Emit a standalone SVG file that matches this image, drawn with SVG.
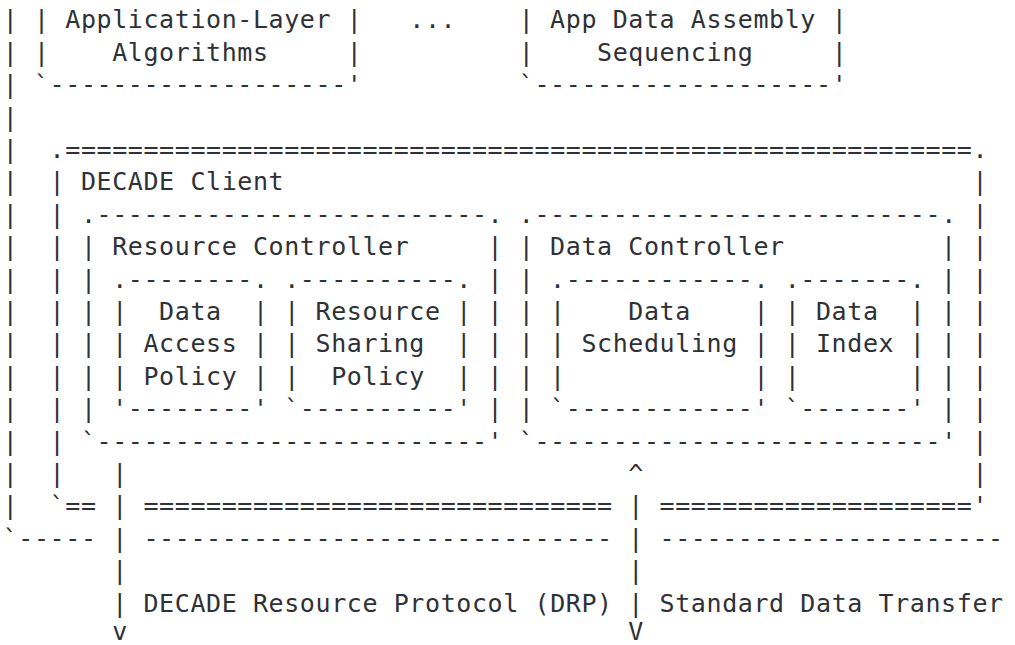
<svg xmlns="http://www.w3.org/2000/svg" width="1015" height="645" viewBox="0 0 1015 645" xml:space="preserve">
  <style>
    text { font-family: "DejaVu Sans Mono", "Liberation Mono", monospace; font-size: 25px; letter-spacing: 0.59px; fill: #2e3135; white-space: pre; }
  </style>
  <rect width="1015" height="645" fill="#ffffff"/>

  <!-- Grid: column c at x = 2.7 + 15.64*c, row r baseline at y = 28.3 + 32.4*(r-1) -->

  <!-- Outer application frame (left edge and bottom rule) -->
  <g id="application">
    <text><tspan x="2.7" y="28.3">|</tspan><tspan x="2.7" y="60.7">|</tspan><tspan x="2.7" y="93.1">|</tspan><tspan x="2.7" y="125.5">|</tspan><tspan x="2.7" y="157.9">|</tspan><tspan x="2.7" y="190.3">|</tspan><tspan x="2.7" y="222.7">|</tspan><tspan x="2.7" y="255.1">|</tspan><tspan x="2.7" y="287.5">|</tspan><tspan x="2.7" y="319.9">|</tspan><tspan x="2.7" y="352.3">|</tspan><tspan x="2.7" y="384.7">|</tspan><tspan x="2.7" y="417.1">|</tspan><tspan x="2.7" y="449.5">|</tspan><tspan x="2.7" y="481.9">|</tspan><tspan x="2.7" y="514.3">|</tspan></text>
    <text x="2.7" y="546.7">`-----</text>
    <text x="143.46" y="546.7">------------------------------</text>
    <text x="659.58" y="546.7">----------------------</text>
  </g>

  <g id="app-layer-algorithms">
    <text x="33.98" y="28.3">| Application-Layer |</text>
    <text x="33.98" y="60.7">|    Algorithms     |</text>
    <text x="33.98" y="93.1">`-------------------'</text>
  </g>

  <g id="ellipsis">
    <text x="409.34" y="28.3">...</text>
  </g>

  <g id="app-data-assembly">
    <text x="518.82" y="28.3">| App Data Assembly |</text>
    <text x="518.82" y="60.7">|    Sequencing     |</text>
    <text x="518.82" y="93.1">`-------------------'</text>
  </g>

  <g id="decade-client">
    <text x="49.62" y="157.9">.==========================================================.</text>
    <text x="49.62" y="190.3">| DECADE Client</text>
    <text><tspan x="49.62" y="222.7">|</tspan><tspan x="49.62" y="255.1">|</tspan><tspan x="49.62" y="287.5">|</tspan><tspan x="49.62" y="319.9">|</tspan><tspan x="49.62" y="352.3">|</tspan><tspan x="49.62" y="384.7">|</tspan><tspan x="49.62" y="417.1">|</tspan><tspan x="49.62" y="449.5">|</tspan><tspan x="49.62" y="481.9">|</tspan></text>
    <text><tspan x="972.38" y="190.3">|</tspan><tspan x="972.38" y="222.7">|</tspan><tspan x="972.38" y="255.1">|</tspan><tspan x="972.38" y="287.5">|</tspan><tspan x="972.38" y="319.9">|</tspan><tspan x="972.38" y="352.3">|</tspan><tspan x="972.38" y="384.7">|</tspan><tspan x="972.38" y="417.1">|</tspan><tspan x="972.38" y="449.5">|</tspan><tspan x="972.38" y="481.9">|</tspan></text>
    <text x="49.62" y="514.3">`==</text>
    <text x="143.46" y="514.3">==============================</text>
    <text x="659.58" y="514.3">===================='</text>
  </g>

  <g id="resource-controller">
    <text x="80.9" y="222.7">.-------------------------.</text>
    <text x="80.9" y="255.1">| Resource Controller</text>
    <text><tspan x="80.9" y="287.5">|</tspan><tspan x="80.9" y="319.9">|</tspan><tspan x="80.9" y="352.3">|</tspan><tspan x="80.9" y="384.7">|</tspan><tspan x="80.9" y="417.1">|</tspan></text>
    <text><tspan x="487.54" y="255.1">|</tspan><tspan x="487.54" y="287.5">|</tspan><tspan x="487.54" y="319.9">|</tspan><tspan x="487.54" y="352.3">|</tspan><tspan x="487.54" y="384.7">|</tspan><tspan x="487.54" y="417.1">|</tspan></text>
    <text x="80.9" y="449.5">`-------------------------'</text>
  </g>

  <g id="data-access-policy">
    <text x="112.18" y="287.5">.--------.</text>
    <text x="112.18" y="319.9">|  Data  |</text>
    <text x="112.18" y="352.3">| Access |</text>
    <text x="112.18" y="384.7">| Policy |</text>
    <text x="112.18" y="417.1">'--------'</text>
  </g>

  <g id="resource-sharing-policy">
    <text x="284.22" y="287.5">.----------.</text>
    <text x="284.22" y="319.9">| Resource |</text>
    <text x="284.22" y="352.3">| Sharing  |</text>
    <text x="284.22" y="384.7">|  Policy  |</text>
    <text x="284.22" y="417.1">`----------'</text>
  </g>

  <g id="data-controller">
    <text x="518.82" y="222.7">.--------------------------.</text>
    <text x="518.82" y="255.1">| Data Controller</text>
    <text><tspan x="518.82" y="287.5">|</tspan><tspan x="518.82" y="319.9">|</tspan><tspan x="518.82" y="352.3">|</tspan><tspan x="518.82" y="384.7">|</tspan><tspan x="518.82" y="417.1">|</tspan></text>
    <text><tspan x="941.1" y="255.1">|</tspan><tspan x="941.1" y="287.5">|</tspan><tspan x="941.1" y="319.9">|</tspan><tspan x="941.1" y="352.3">|</tspan><tspan x="941.1" y="384.7">|</tspan><tspan x="941.1" y="417.1">|</tspan></text>
    <text x="518.82" y="449.5">`--------------------------'</text>
  </g>

  <g id="data-scheduling">
    <text x="550.1" y="287.5">.------------.</text>
    <text x="550.1" y="319.9">|    Data    |</text>
    <text x="550.1" y="352.3">| Scheduling |</text>
    <text x="550.1" y="384.7">|            |</text>
    <text x="550.1" y="417.1">`------------'</text>
  </g>

  <g id="data-index">
    <text x="784.7" y="287.5">.-------.</text>
    <text x="784.7" y="319.9">| Data  |</text>
    <text x="784.7" y="352.3">| Index |</text>
    <text x="784.7" y="384.7">|       |</text>
    <text x="784.7" y="417.1">`-------'</text>
  </g>

  <!-- Connectors leaving the client: DRP downward, data transfer both ways -->
  <g id="connectors">
    <g id="drp">
      <text><tspan x="112.18" y="481.9">|</tspan><tspan x="112.18" y="514.3">|</tspan><tspan x="112.18" y="546.7">|</tspan><tspan x="112.18" y="579.1">|</tspan><tspan x="112.18" y="611.5">|</tspan><tspan x="112.18" y="640">v</tspan></text>
      <text x="143.46" y="611.5">DECADE Resource Protocol (DRP)</text>
    </g>
    <g id="standard-data-transfer">
      <text><tspan x="628.3" y="481.9">^</tspan><tspan x="628.3" y="514.3">|</tspan><tspan x="628.3" y="546.7">|</tspan><tspan x="628.3" y="579.1">|</tspan><tspan x="628.3" y="611.5">|</tspan><tspan x="628.3" y="640">V</tspan></text>
      <text x="659.58" y="611.5">Standard Data Transfer</text>
    </g>
  </g>
</svg>
